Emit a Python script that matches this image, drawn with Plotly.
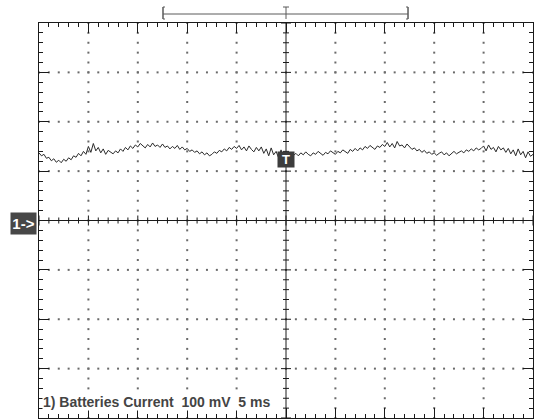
import plotly.graph_objects as go

# ---- data (oscilloscope CH1, 100 mV/div, 5 ms/div) ----
sample_step_ms = 0.25
t_start_ms = -25.0
ch1_mv = [
 137,131,134,126,128,121,125,118,122,117,
 124,120,127,123,131,128,136,131,140,134,
 150,138,156,141,148,137,145,134,142,138,
 135,141,137,145,140,148,143,151,146,153,
 149,156,151,147,154,149,157,150,153,148,
 155,148,151,145,150,146,152,144,149,143,
 146,140,143,138,141,135,139,133,137,131,
 134,139,136,142,139,145,141,148,144,150,
 146,152,143,149,141,151,144,139,148,141,
 149,136,145,131,147,133,140,127,143,126,
 129,134,127,132,136,131,137,133,139,134,
 131,137,134,140,135,132,138,135,141,137,
 134,140,137,143,139,136,144,140,146,141,
 147,143,150,146,152,147,144,151,148,154,
 150,158,149,156,147,160,151,153,147,155,
 149,144,147,141,144,138,142,136,139,134,
 137,132,136,139,133,137,131,136,140,135,
 138,141,137,143,140,145,141,147,143,146,
 151,141,153,144,148,139,150,143,147,138,
 146,135,143,131,145,133,140,127,139,130,
 134,
]
trigger_time_ms = 0.0
trigger_level_mv = 124
x_range = [-25, 25]      # 10 div x 5 ms
y_range = [-400, 400]    # 8 div x 100 mV
x_div, y_div = 5, 100
label_text = "1) Batteries Current  100 mV  5 ms"
window_bracket_ms = [-12.45, 12.35]

t_ms = [t_start_ms + i * sample_step_ms for i in range(len(ch1_mv))]

# ---- geometry ----
W, H = 534, 419
ML, MR, MT, MB = 39, 1, 23, 1
PW, PH = W - ML - MR, H - MT - MB
px_per_ms = PW / (x_range[1] - x_range[0])
px_per_mv = PH / (y_range[1] - y_range[0])

fig = go.Figure()

# dotted graticule
gx, gy = [], []
for xv in range(x_range[0] + x_div, x_range[1], x_div):
    if xv == 0:
        continue
    yv = y_range[0]
    while yv <= y_range[1]:
        gx.append(xv); gy.append(yv)
        yv += y_div / 5
for yv in range(y_range[0] + y_div, y_range[1], y_div):
    if yv == 0:
        continue
    xv = x_range[0]
    while xv <= x_range[1]:
        gx.append(xv); gy.append(yv)
        xv += x_div / 5
fig.add_trace(go.Scatter(x=gx, y=gy, mode="markers", hoverinfo="skip",
                         marker=dict(symbol="square", size=2, color="#6a6a6a", line=dict(width=0))))

# centre axes with crossing ticks
cx, cy = [x_range[0], x_range[1], None, 0, 0, None], [0, 0, None, y_range[0], y_range[1], None]
xv = x_range[0]
while xv <= x_range[1] + 1e-9:
    L = 5 if abs(xv / x_div - round(xv / x_div)) < 1e-6 else 3
    d = L / px_per_mv
    cx += [xv, xv, None]; cy += [-d, d, None]
    xv += x_div / 5
yv = y_range[0]
while yv <= y_range[1] + 1e-9:
    L = 5 if abs(yv / y_div - round(yv / y_div)) < 1e-6 else 3
    d = L / px_per_ms
    cx += [-d, d, None]; cy += [yv, yv, None]
    yv += y_div / 5
fig.add_trace(go.Scatter(x=cx, y=cy, mode="lines", hoverinfo="skip",
                         line=dict(color="#1a1a1a", width=1)))

# signal
fig.add_trace(go.Scatter(x=t_ms, y=ch1_mv, mode="lines", line=dict(color="#2b2b2b", width=1)))

axis_common = dict(showgrid=False, zeroline=False, showticklabels=False,
                   showline=True, linecolor="#1a1a1a", linewidth=1, mirror="ticks",
                   ticks="inside", ticklen=10, tickcolor="#1a1a1a", tickwidth=1,
                   fixedrange=True)
fig.update_xaxes(range=x_range, dtick=x_div, tick0=0,
                 minor=dict(ticks="inside", ticklen=4, dtick=x_div / 5, tickcolor="#1a1a1a"),
                 **axis_common)
fig.update_yaxes(range=y_range, dtick=y_div, tick0=0,
                 minor=dict(ticks="inside", ticklen=4, dtick=y_div / 5, tickcolor="#1a1a1a"),
                 **axis_common)

def px_to_paper_x(px):
    return (px - ML) / PW

def px_to_paper_y(py):
    return (H - MB - py) / PH

# memory window bracket above the plot
bx0 = px_to_paper_x(ML + (window_bracket_ms[0] - x_range[0]) * px_per_ms)
bx1 = px_to_paper_x(ML + (window_bracket_ms[1] - x_range[0]) * px_per_ms)
by = px_to_paper_y(14)
byt, byb = px_to_paper_y(7), px_to_paper_y(19)
bc = "#5a5a5a"
cap = 2 / PW
shapes = [
    dict(type="line", xref="paper", yref="paper", x0=bx0, x1=bx1, y0=by, y1=by, line=dict(color=bc, width=1)),
    dict(type="line", xref="paper", yref="paper", x0=bx0, x1=bx0, y0=byb, y1=byt, line=dict(color=bc, width=1.5)),
    dict(type="line", xref="paper", yref="paper", x0=bx0, x1=bx0 + cap, y0=byt, y1=byt, line=dict(color=bc, width=1)),
    dict(type="line", xref="paper", yref="paper", x0=bx0, x1=bx0 + cap, y0=byb, y1=byb, line=dict(color=bc, width=1)),
    dict(type="line", xref="paper", yref="paper", x0=bx1, x1=bx1, y0=byb, y1=byt, line=dict(color=bc, width=1.5)),
    dict(type="line", xref="paper", yref="paper", x0=bx1 - cap, x1=bx1, y0=byt, y1=byt, line=dict(color=bc, width=1)),
    dict(type="line", xref="paper", yref="paper", x0=bx1 - cap, x1=bx1, y0=byb, y1=byb, line=dict(color=bc, width=1)),
]
tx = px_to_paper_x(ML + (trigger_time_ms - x_range[0]) * px_per_ms)
shapes += [
    dict(type="line", xref="paper", yref="paper", x0=tx, x1=tx, y0=byb, y1=byt, line=dict(color=bc, width=1)),
    dict(type="line", xref="paper", yref="paper", x0=tx - 3 / PW, x1=tx + 3 / PW, y0=byt, y1=byt, line=dict(color=bc, width=1)),
]
fig.update_layout(shapes=shapes)

annotations = [
    dict(text="<b>T</b>", x=trigger_time_ms, y=trigger_level_mv, xref="x", yref="y",
         showarrow=False, font=dict(family="Liberation Sans, Arial", size=13, color="white"),
         bgcolor="#3c3c3c", width=16, height=15, borderpad=0, xanchor="center", yanchor="middle"),
    dict(text="<b>1-></b>", x=px_to_paper_x(37), y=0, xref="paper", yref="y", yshift=-3,
         showarrow=False, font=dict(family="Liberation Sans, Arial", size=15, color="white"),
         bgcolor="#474747", width=25, height=21, borderpad=0, xanchor="right", yanchor="middle"),
    dict(text="<b>" + label_text.replace("  ", "&nbsp; ") + "</b>", x=px_to_paper_x(42),
         y=px_to_paper_y(402), xref="paper", yref="paper", showarrow=False,
         font=dict(family="Liberation Sans, Arial", size=14, color="#444444"),
         bgcolor="white", borderpad=0, xanchor="left", yanchor="middle"),
]
fig.update_layout(annotations=annotations)

fig.update_layout(width=W, height=H, margin=dict(l=ML, r=MR, t=MT, b=MB, pad=0),
                  paper_bgcolor="white", plot_bgcolor="white", showlegend=False)

fig.write_html("out.html")
